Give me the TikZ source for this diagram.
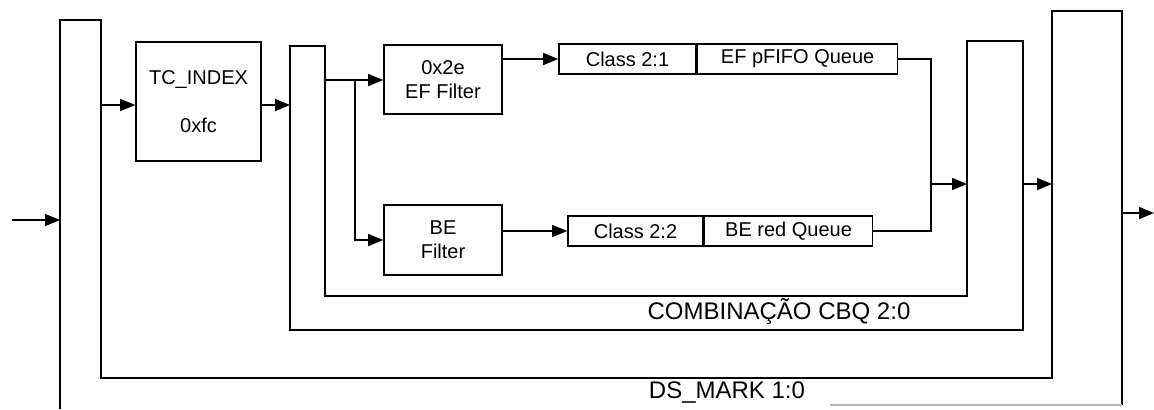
\documentclass[tikz,border=0pt]{standalone}
\usepackage{fontspec}
\setmainfont{Liberation Sans}
\usetikzlibrary{arrows.meta,positioning}

\begin{document}
\begin{tikzpicture}[x=0.5pt,y=-0.5pt,line width=0.8pt,font=\fontsize{10}{12}\selectfont,
  >={Triangle[length=7.5pt,width=6pt]},
  box/.style={draw,align=center,inner sep=1pt},
  qbox/.style={draw,inner sep=1pt,minimum height=15pt},
  lbl/.style={font=\fontsize{12}{14}\selectfont,inner sep=0pt}]
\useasboundingbox (0,0) rectangle (1154,409);
% nested combination blocks
\draw (60,409) -- (60,20) -- (101,20) -- (101,378) -- (1052,378) -- (1052,11)
  -- (1122,11) -- (1122,405);
\draw[gray!60] (1122,405) -- (830,405);
\draw (290,330) -- (290,46) -- (325,46) -- (325,296) -- (967,296) -- (967,41)
  -- (1023,41) -- (1023,330) -- cycle;
\node[lbl] (dslbl) at (727,392) {DS\_MARK 1:0};
\node[lbl] (cbqlbl) at (779,311) {COMBINAÇÃO CBQ 2:0};
% wall points
\coordinate (in) at (12,220);
\coordinate (dsl) at (60,220);
\coordinate (dsin) at (101,105);
\coordinate (cbql) at (290,105);
\coordinate (cbqin) at (325,80);
\coordinate (split) at (355,80);
\coordinate (mrg) at (931,184);
\coordinate (cbqr) at (967,184);
\coordinate (cbqout) at (1023,184);
\coordinate (dsr) at (1052,184);
\coordinate (dsout) at (1122,213);
\coordinate (out) at (1154,213);
% blocks
\node[box,minimum width=62.5pt,minimum height=59.5pt] (tc) at (198.5,101.5) {TC\_INDEX\\[12pt]0xfc};
\node[box,minimum width=59pt,minimum height=34.5pt] (ef) at (443,79.5) {0x2e\\EF Filter};
\node[box,minimum width=59pt,minimum height=35pt] (be) at (443,240) {BE\\Filter};
\node[qbox,minimum width=68.5pt] (c21) at (627.5,59) {Class 2:1};
\node[qbox,minimum width=100pt,right=0pt of c21] (efq) {EF pFIFO Queue};
\node[qbox,minimum width=67.5pt] (c22) at (635.5,231) {Class 2:2};
\node[qbox,minimum width=84pt,right=0pt of c22] (beq) {BE red Queue};
% connectors
\draw[->] (in) -- (dsl);
\draw[->] (dsin) -- (dsin -| tc.west);
\draw[->] (tc.east |- cbql) -- (cbql);
\draw (cbqin) -- (split);
\draw[->] (split) -- (split -| ef.west);
\draw[->] (split) |- (be.west);
\draw[->] (ef.east |- c21) -- (c21.west);
\draw[->] (be.east |- c22) -- (c22.west);
\draw (efq.east) -| (mrg);
\draw (beq.east) -| (mrg);
\draw[->] (mrg) -- (cbqr);
\draw[->] (cbqout) -- (dsr);
\draw[->] (dsout) -- (out);
\end{tikzpicture}
\end{document}
